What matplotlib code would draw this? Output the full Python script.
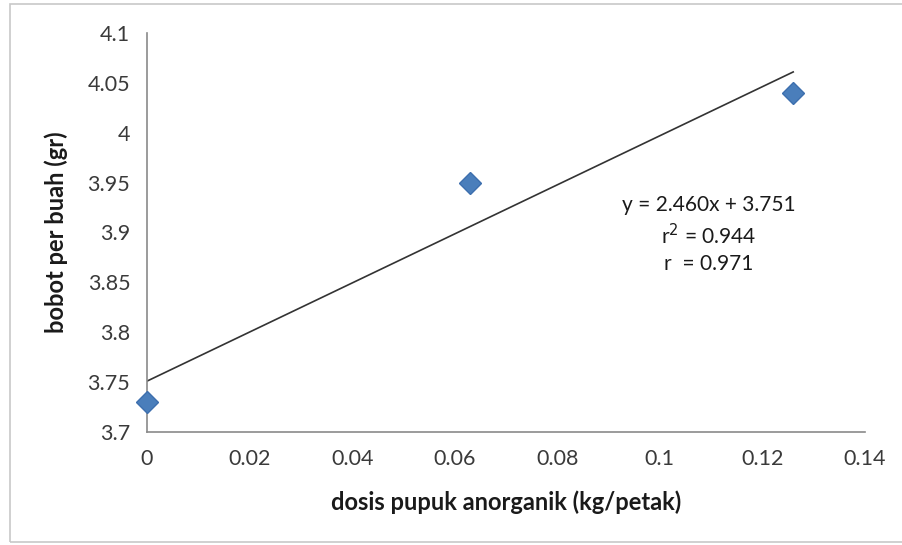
import matplotlib
matplotlib.use("Agg")
import matplotlib.pyplot as plt
from matplotlib.patches import Rectangle

# data
dosis = [0.0, 0.063, 0.126]
bobot = [3.73, 3.95, 4.04]
slope, intercept = 2.460, 3.751
x_ticks = [0, 0.02, 0.04, 0.06, 0.08, 0.1, 0.12, 0.14]
x_labels = ["0", "0.02", "0.04", "0.06", "0.08", "0.1", "0.12", "0.14"]
y_ticks = [3.7, 3.75, 3.8, 3.85, 3.9, 3.95, 4.0, 4.05, 4.1]
y_labels = ["3.7", "3.75", "3.8", "3.85", "3.9", "3.95", "4", "4.05", "4.1"]

plt.rcParams["font.family"] = ["Lato", "DejaVu Sans"]

fig = plt.figure(figsize=(9.02, 5.45), dpi=100)
fig.patches.append(Rectangle((10 / 902, 3 / 545), 1.0, 538 / 545,
                             transform=fig.transFigure, fill=False,
                             edgecolor="#c8c8c8", linewidth=1.2))
ax = fig.add_axes([147 / 902, 1 - 432 / 545, (865 - 147) / 902, (432 - 33) / 545])

x_fit = [dosis[0], dosis[-1]]
y_fit = [slope * v + intercept for v in x_fit]
ax.plot(x_fit, y_fit, color="#333333", linewidth=1.2, zorder=2)
ax.plot(dosis, bobot, linestyle="none", marker="D", markersize=11,
        color="#4a7ebb", markeredgecolor="#3d6fae", zorder=3, clip_on=False)

ax.set_xlim(0, 0.14)
ax.set_ylim(3.7, 4.1)
ax.set_xticks(x_ticks)
ax.set_xticklabels(x_labels)
ax.set_yticks(y_ticks)
ax.set_yticklabels(y_labels)
ax.tick_params(length=0, labelsize=15.5, labelcolor="#3a3a3a", pad=12)
for s in ("top", "right"):
    ax.spines[s].set_visible(False)
for s in ("left", "bottom"):
    ax.spines[s].set_color("#8a8a8a")
    ax.spines[s].set_linewidth(1.2)

ax.set_xlabel("dosis pupuk anorganik (kg/petak)", fontsize=17,
              fontweight="bold", color="#1a1a1a", labelpad=16)
ax.set_ylabel("bobot per buah (gr)", fontsize=17, fontweight="bold",
              color="#1a1a1a", labelpad=14)

ax.text(0.1095, 3.898, "y = 2.460x + 3.751\nr$^2$ = 0.944\nr  = 0.971",
        ha="center", va="center", fontsize=15, color="#1a1a1a",
        linespacing=1.35)

fig.savefig("out.png", dpi=100)
